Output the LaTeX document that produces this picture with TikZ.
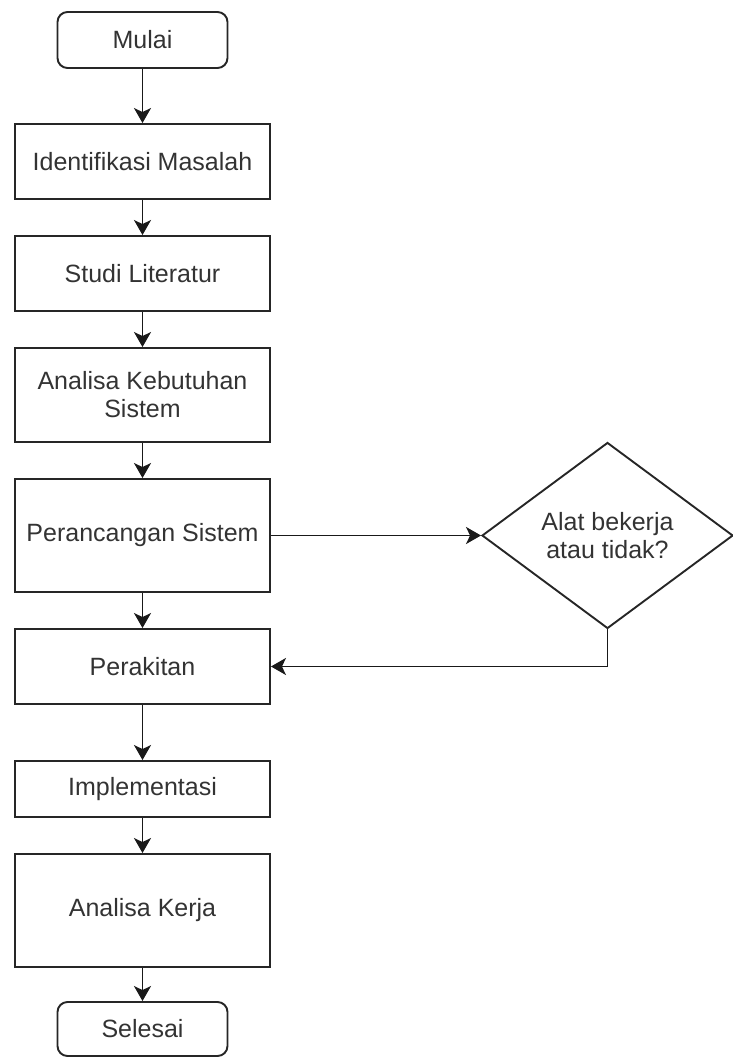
\documentclass[tikz,border=0pt]{standalone}
\usepackage{fontspec}
\setmainfont{Liberation Sans}
\usetikzlibrary{shapes.geometric,arrows.meta}
\begin{document}
\begin{tikzpicture}[x=1pt,y=-1pt,
  base/.style={draw=black!85, line width=1.9pt, text=black!80, inner sep=0pt, align=center,
    font=\fontsize{25}{28}\selectfont},
  box/.style={base, rectangle, minimum width=255pt},
  term/.style={base, rectangle, rounded corners=10pt, minimum width=170pt},
  decision/.style={base, diamond, minimum width=251pt, minimum height=186pt},
  arr/.style={draw=black!90, line width=1.9pt, -{Stealth[length=15pt,width=17pt,inset=4pt]}}
]
\useasboundingbox (0,0) rectangle (733,1057);
\node[term, minimum height=56pt] (mulai) at (142.5,40) {Mulai};
\node[box, minimum height=75pt] (ident) at (142.5,161.5) {Identifikasi Masalah};
\node[box, minimum height=75pt] (studi) at (142.5,273.5) {Studi Literatur};
\node[box, minimum height=94pt] (anal) at (142.5,395) {Analisa Kebutuhan\\Sistem};
\node[box, minimum height=113pt] (peran) at (142.5,535.5) {Perancangan Sistem};
\node[box, minimum height=75pt] (perak) at (142.5,666.5) {Perakitan};
\node[box, minimum height=56pt] (impl) at (142.5,789) {Implementasi};
\node[box, minimum height=113pt] (kerja) at (142.5,910.5) {Analisa Kerja};
\node[term, minimum height=54pt] (selesai) at (142.5,1029) {Selesai};
\node[decision] (dec) at (607.5,535.5) {Alat bekerja\\atau tidak?};
\draw[arr] (mulai.south) -- (ident.north);
\draw[arr] (ident.south) -- (studi.north);
\draw[arr] (studi.south) -- (anal.north);
\draw[arr] (anal.south) -- (peran.north);
\draw[arr] (peran.south) -- (perak.north);
\draw[arr] (perak.south) -- (impl.north);
\draw[arr] (impl.south) -- (kerja.north);
\draw[arr] (kerja.south) -- (selesai.north);
\draw[arr] (peran.east) -- (dec.west);
\draw[arr] (dec.south) |- (perak.east);
\end{tikzpicture}
\end{document}
